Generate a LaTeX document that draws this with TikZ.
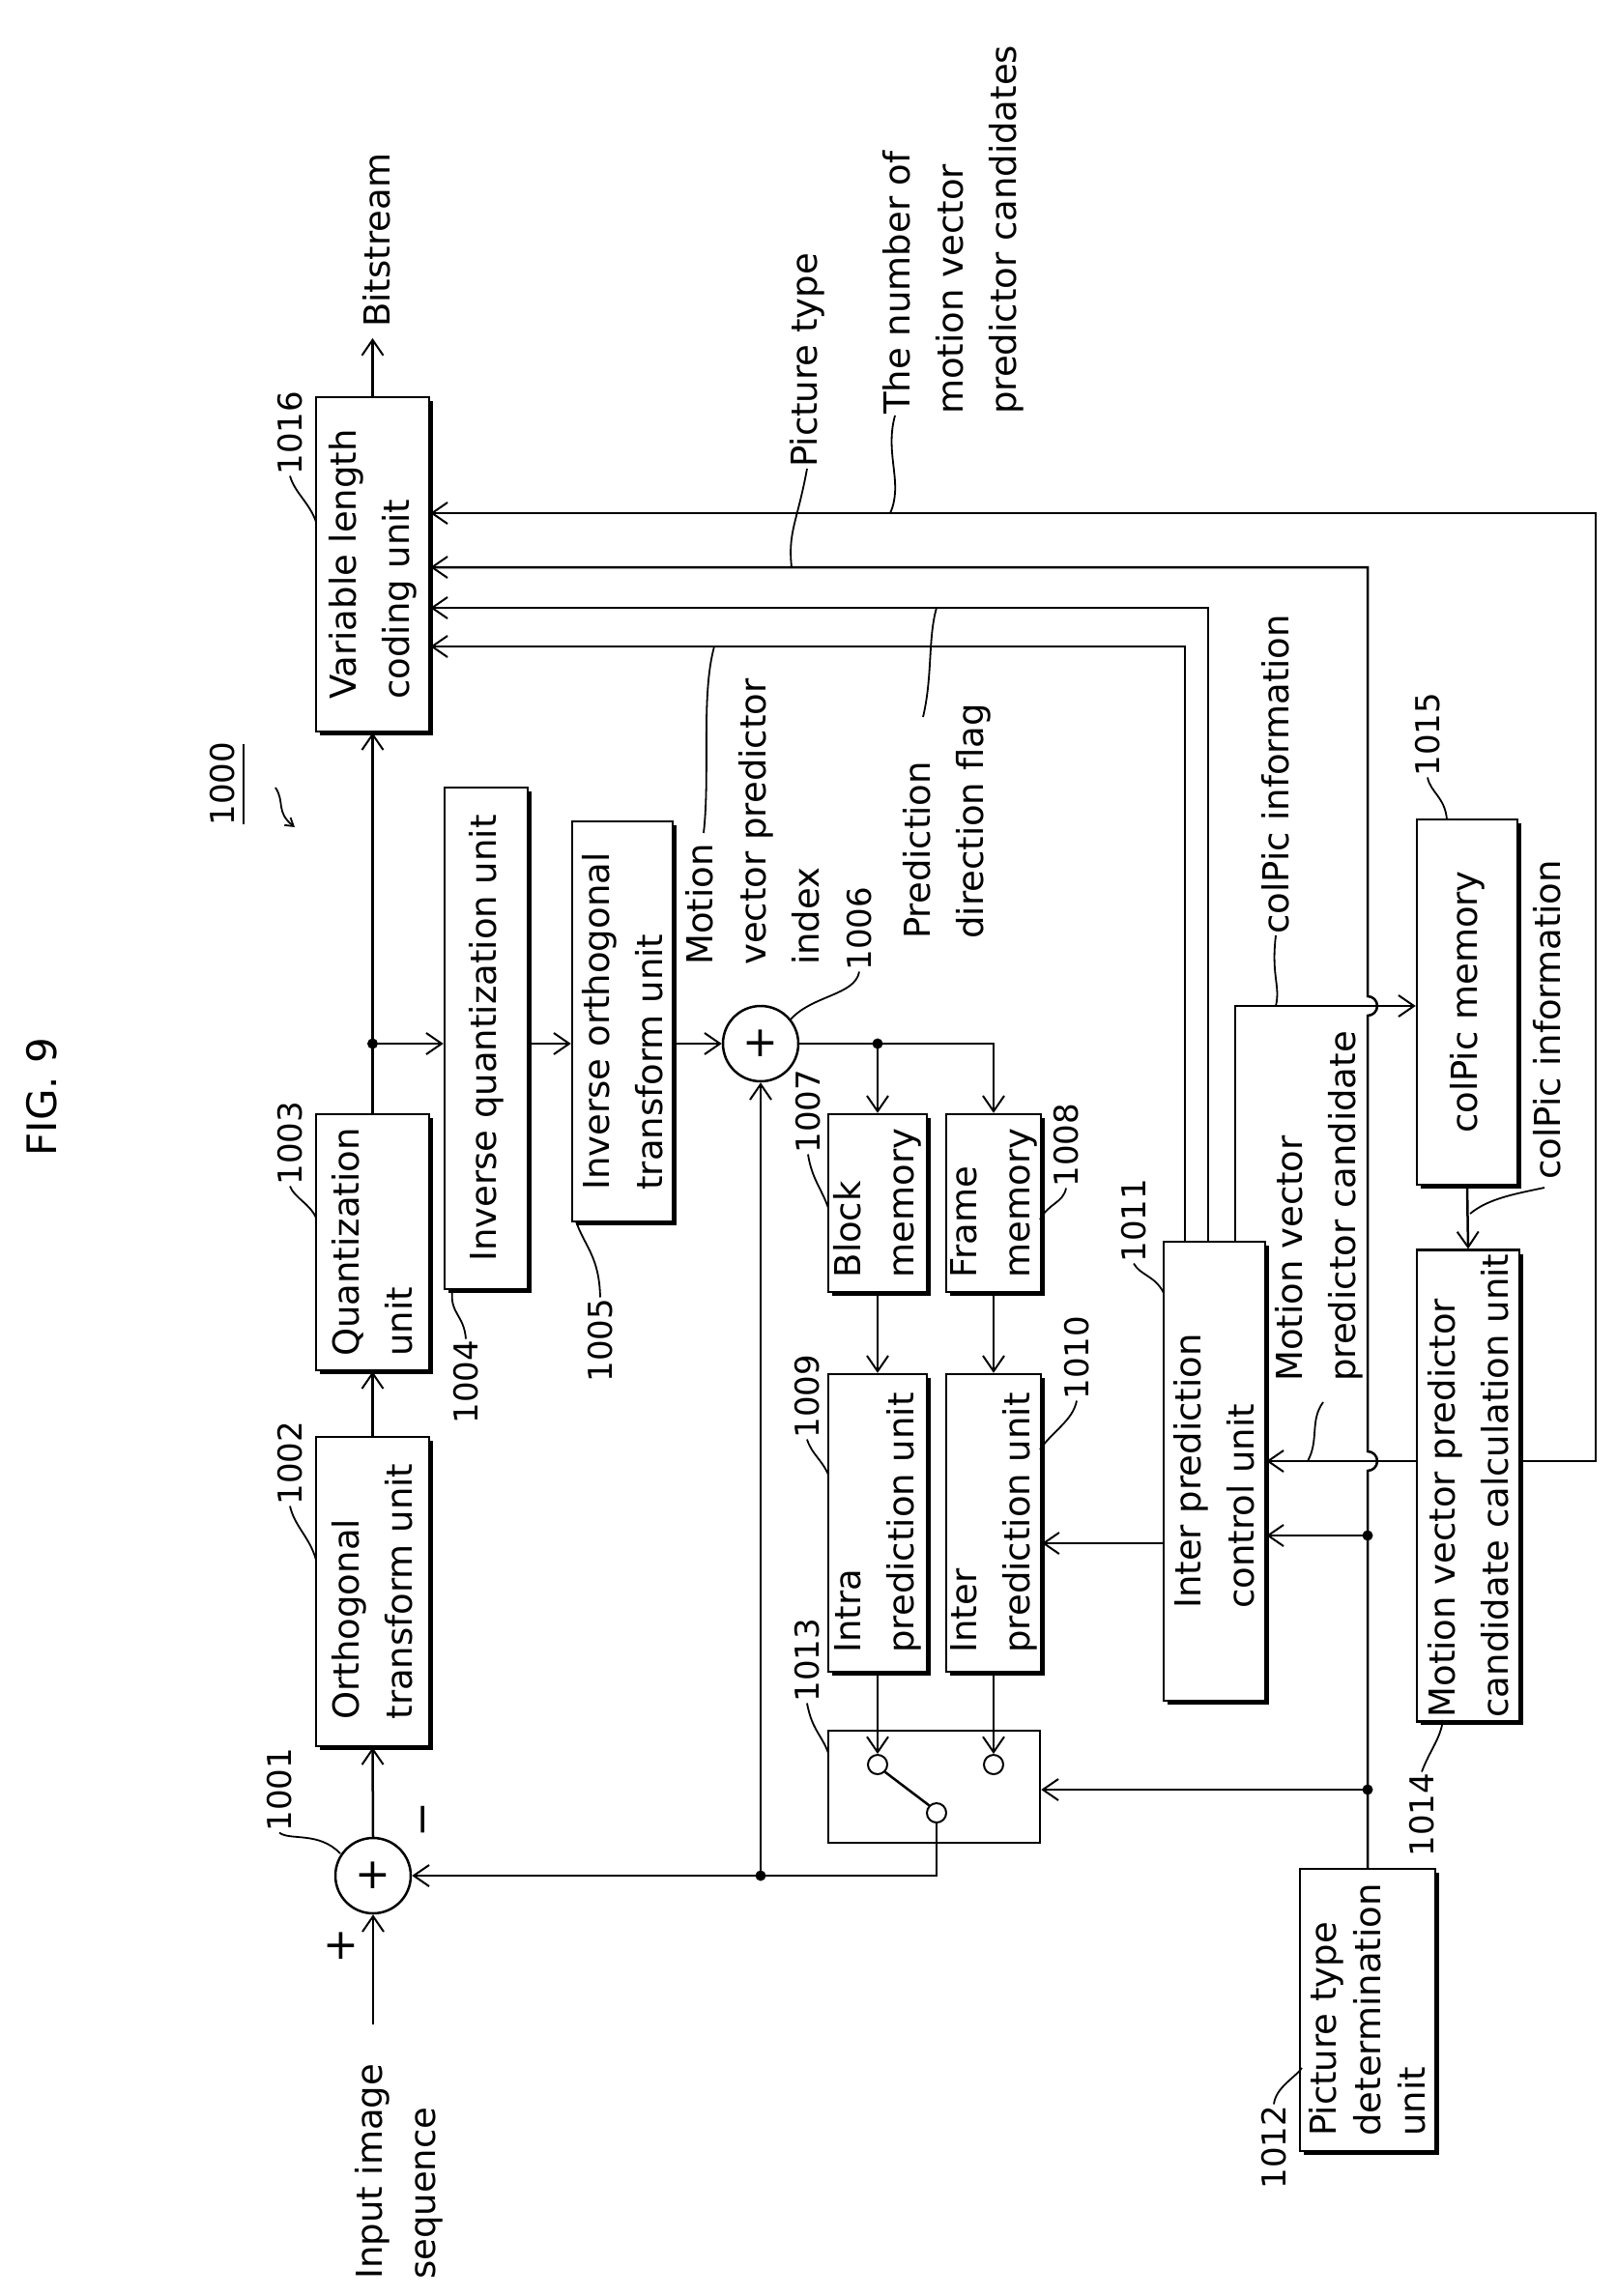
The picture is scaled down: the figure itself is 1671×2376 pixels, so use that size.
\documentclass[tikz,border=0pt]{standalone}
\usepackage{fontspec}
\setmainfont{DejaVu Sans}
\usetikzlibrary{arrows.meta,shadows,calc}
\begin{document}
\begin{tikzpicture}[x=1pt,y=-1pt,
  line width=2.5pt,
  >={Straight Barb[length=16pt,width=22pt,line width=2pt]},
  box/.style={draw,line width=2.5pt,fill=white,rotate=90,inner sep=4pt,align=left,
    font=\fontsize{37}{55}\selectfont,
    drop shadow={shadow xshift=4pt,shadow yshift=-4pt,fill=black,opacity=1}},
  plainbox/.style={draw,line width=2.5pt,rotate=90,inner sep=0pt},
  txt/.style={rotate=90,align=left,inner sep=0pt,font=\fontsize{37}{55}\selectfont},
  num/.style={rotate=90,inner sep=0pt,font=\fontsize{34}{40}\selectfont},
  lead/.style={line width=1.8pt},
  dot/.style={circle,fill=black,inner sep=0pt,minimum size=11pt},
  sum/.style={circle,draw,line width=2.5pt,minimum size=78pt,inner sep=0pt,font=\fontsize{44}{44}\selectfont},
  sw/.style={circle,draw,line width=2pt,minimum size=20pt,inner sep=0pt}]
\useasboundingbox (0,0) rectangle (1671,2376);
\node[rotate=90,font=\fontsize{42}{42}\selectfont] (fig) at (43,1135) {FIG. 9};
% boxes
\node[box,minimum width=346pt,minimum height=117pt] (vlc) at (385.5,584) {Variable length\\coding unit};
\node[box,minimum width=265pt,minimum height=117pt] (quant) at (385.5,1285.5) {Quantization\\unit};
\node[box,minimum width=320pt,minimum height=117pt] (ortho) at (385.5,1647) {Orthogonal\\transform unit};
\node[box,minimum width=519pt,minimum height=86pt] (iquant) at (503,1074.5) {Inverse quantization unit};
\node[box,minimum width=414pt,minimum height=104pt] (iortho) at (644,1057) {Inverse orthogonal\\transform unit};
\node[box,minimum width=184pt,minimum height=102pt] (block) at (908,1245) {Block\\memory};
\node[box,minimum width=184pt,minimum height=96pt] (frame) at (1028,1245) {Frame\\memory};
\node[box,minimum width=308pt,minimum height=102pt] (intra) at (908,1576) {Intra\\prediction unit};
\node[box,minimum width=308pt,minimum height=96pt] (inter) at (1028,1576) {Inter\\prediction unit};
\node[plainbox,minimum width=116pt,minimum height=219pt] (switch) at (966.5,1849) {};
\node[box,minimum width=475pt,minimum height=105pt] (ctrl) at (1256.5,1522.5) {Inter prediction\\control unit};
\node[box,minimum width=378pt,minimum height=104pt] (colpic) at (1518,1037) {colPic memory};
\node[box,minimum width=485pt,minimum height=106pt] (mvpc) at (1519,1537.5) {Motion vector predictor\\candidate calculation unit};
\node[box,minimum width=292pt,minimum height=140pt,inner sep=1pt,font=\fontsize{37}{46}\selectfont] (ptd) at (1415,2080) {Picture type\\determination\\unit};
% adders
\node[sum] (c1) at (386,1941) {+};
\node[sum] (c2) at (787,1080) {+};
% switch contacts
\node[sw] (sa) at (908,1826) {};
\node[sw] (sb) at (1028,1826) {};
\node[sw] (sc) at (969,1876) {};
% coordinates
\coordinate (in) at (386,2095);
\coordinate (bs) at (385.5,350);
\coordinate (d1) at (385.5,1080);
\coordinate (d2) at (908,1080);
\coordinate (d3) at (787,1941);
\coordinate (d4) at (1415,1589);
\coordinate (d5) at (1415,1852);
\coordinate (yA) at (0,1597);
\coordinate (y1) at (0,531);
\coordinate (y2) at (0,587);
\coordinate (y3) at (0,629);
\coordinate (y4) at (0,669);
\coordinate (yC) at (0,1041);
\coordinate (yM) at (0,1512);
% main path
\draw[->] (in) -- (c1.south);
\draw[->] (c1.north) -- (ortho.west);
\draw[->] (ortho.east) -- (quant.west);
\draw[->] (quant.east) -- (vlc.west);
\draw[->] (vlc.east) -- (bs);
\draw[->] (d1) -- (iquant.north |- d1);
\draw[->] (iquant.south |- d1) -- (iortho.north |- d1);
\draw[->] (iortho.south |- d1) -- (c2.west);
\draw (c2.east) -- (d2);
\draw[->] (d2) -- (block.east);
\draw[->] (d2) -- (frame.east |- d2) -- (frame.east);
\draw[->] (block.west) -- (intra.east);
\draw[->] (frame.west) -- (inter.east);
\draw[->] (intra.west) -- (sa.north);
\draw[->] (inter.west) -- (sb.north);
\draw (sa.south east) -- (sc.north west);
\draw[->] (sc.south) -- (sc.south |- c1) -- (c1.east);
\draw[->] (d3) -- (c2.south);
% control signals
\draw[->] (ctrl.north |- yA) -- (inter.south |- yA);
\draw[->] (ptd.east) -- (1415,1522) arc[start angle=90,end angle=-90,radius=10] -- (1415,1051) arc[start angle=90,end angle=-90,radius=10] -- (1415,587) -- (vlc.south |- y2);
\draw[->] (d4) -- (ctrl.south |- d4);
\draw[->] (d5) -- (switch.south |- d5);
\draw[->] (mvpc.north |- yM) -- (ctrl.south |- yM);
\draw[->] (mvpc.south |- yM) -- (1651,1512) -- (1651,531) -- (vlc.south |- y1);
\draw[->] (1250,1285) -- (1250,629) -- (vlc.south |- y3);
\draw[->] (1226,1285) -- (1226,669) -- (vlc.south |- y4);
\draw[->] (1278,1285) -- (1278,1041) -- (colpic.north |- yC);
\draw[->] (colpic.west) -- (mvpc.east);
\node[dot] at (d1) {};
\node[dot] at (d2) {};
\node[dot] at (d3) {};
\node[dot] at (d4) {};
\node[dot] at (d5) {};
% texts
\node[txt,anchor=west] (tbs) at (390,340) {Bitstream};
\node[txt,anchor=west] (tpt) at (835,485) {Picture type};
\node[txt,anchor=north west] (tnum) at (912,430) {The number of\\motion vector\\predictor candidates};
\node[txt,anchor=north west] (tidx) at (708,1000) {Motion\\vector predictor\\index};
\node[txt,anchor=north west] (tdir) at (933,973) {Prediction\\direction flag};
\node[txt,anchor=west] (tci1) at (1320,968) {colPic information};
\node[txt,anchor=west] (tci2) at (1601,1222) {colPic information};
\node[txt,anchor=north west] (tmvc) at (1318,1431) {Motion vector\\predictor candidate};
\node[txt,anchor=north west] (tin) at (366,2360) {Input image\\sequence};
\node[font=\fontsize{44}{44}\selectfont] (plus) at (353,2014) {+};
\node[rotate=90,font=\fontsize{44}{44}\selectfont] (minus) at (444,1883) {−};
% leaders for texts
\draw[lead] (tpt.west) .. controls (825,540) and (815,550) .. (819,587);
\draw[lead] (tnum.north west) ++(14,0) .. controls (915,470) and (935,500) .. (921,531);
\draw[lead] (728,862) .. controls (735,800) and (725,720) .. (739,669);
\draw[lead] (955,742) .. controls (965,700) and (960,660) .. (969,629);
\draw[lead] (tci1.west) .. controls (1315,1010) and (1325,1020) .. (1320,1041);
\draw[lead] (1598,1229) .. controls (1570,1235) and (1540,1240) .. (1521,1256);
\draw[lead] (1369,1451) .. controls (1355,1470) and (1365,1490) .. (1353,1512);
% numbers
\node[num] (n1000) at (230,811) {1000};
\draw[line width=2pt] (252,770) -- (252,853);
\draw[lead,->,>={Straight Barb[length=8pt,width=10pt]}] (285,815) .. controls (295,830) and (285,840) .. (305,856);
\node[num] (n1016) at (300,448) {1016};
\draw[lead] (n1016.west) .. controls (305,510) and (320,520) .. (327,540);
\node[num] (n1003) at (300,1183) {1003};
\draw[lead] (n1003.west) .. controls (305,1240) and (320,1245) .. (327,1260);
\node[num] (n1002) at (300,1514) {1002};
\draw[lead] (n1002.west) .. controls (305,1580) and (320,1590) .. (327,1614);
\node[num] (n1001) at (289,1852) {1001};
\draw[lead] (n1001.west) .. controls (300,1905) and (330,1895) .. (352,1918);
\node[num] (n1004) at (482,1430) {1004};
\draw[lead] (n1004.east) .. controls (480,1360) and (465,1360) .. (468,1334);
\node[num] (n1005) at (621,1387) {1005};
\draw[lead] (n1005.east) .. controls (620,1300) and (605,1290) .. (596,1264);
\node[num] (n1006) at (889,961) {1006};
\draw[lead] (n1006.west) .. controls (885,1030) and (840,1030) .. (818,1055);
\node[num] (n1007) at (836,1150) {1007};
\draw[lead] (n1007.west) .. controls (840,1220) and (850,1230) .. (857,1250);
\node[num] (n1008) at (1103,1185) {1008};
\draw[lead] (n1008.west) .. controls (1100,1245) and (1085,1245) .. (1076,1262);
\node[num] (n1009) at (835,1445) {1009};
\draw[lead] (n1009.west) .. controls (840,1505) and (850,1510) .. (857,1526);
\node[num] (n1010) at (1114,1405) {1010};
\draw[lead] (n1010.west) .. controls (1110,1470) and (1090,1480) .. (1076,1500);
\node[num] (n1011) at (1173,1263) {1011};
\draw[lead] (n1011.west) .. controls (1180,1320) and (1195,1320) .. (1204,1338);
\node[num] (n1013) at (835,1718) {1013};
\draw[lead] (n1013.west) .. controls (840,1790) and (850,1795) .. (857,1814);
\node[num] (n1014) at (1471,1878) {1014};
\draw[lead] (n1014.east) .. controls (1480,1810) and (1490,1800) .. (1493,1780);
\node[num] (n1015) at (1477,760) {1015};
\draw[lead] (n1015.west) .. controls (1480,820) and (1495,825) .. (1497,848);
\node[num] (n1012) at (1318,2222) {1012};
\draw[lead] (n1012.east) .. controls (1320,2160) and (1340,2150) .. (1347,2140);
\end{tikzpicture}
\end{document}
